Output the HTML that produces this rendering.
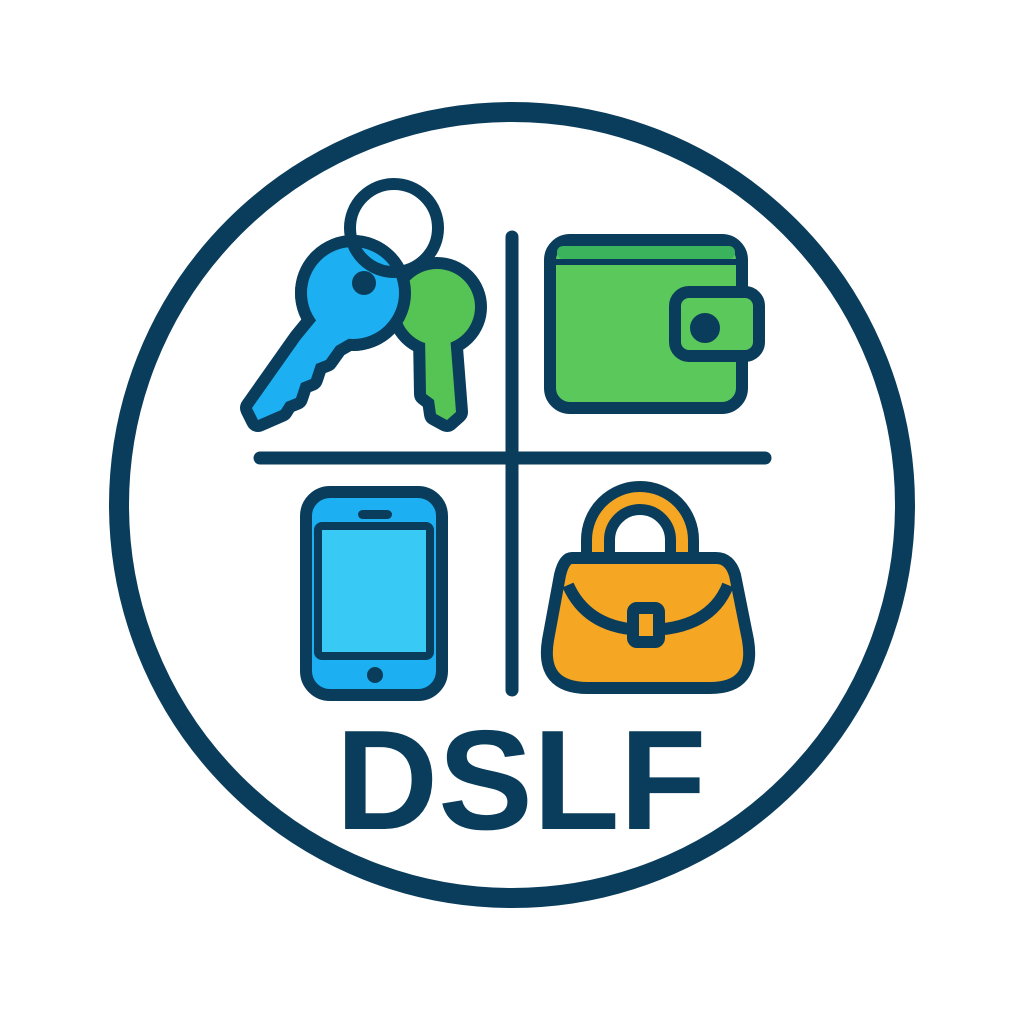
<!DOCTYPE html>
<html><head><style>html,body{margin:0;padding:0;background:#fff}svg{display:block}</style></head>
<body>
<svg width="1024" height="1024" viewBox="0 0 1024 1024" xmlns="http://www.w3.org/2000/svg">
<rect width="1024" height="1024" fill="#fff"/>
<circle cx="512" cy="505" r="393" fill="none" stroke="#0a3d5c" stroke-width="20"/>
<g stroke="#0a3d5c" stroke-width="13" stroke-linecap="round">
<line x1="512" y1="237" x2="512" y2="690"/>
<line x1="260" y1="458" x2="765" y2="458"/>
</g>
<!-- keys: outlines -->
<g fill="#0a3d5c" stroke="#0a3d5c" stroke-width="24" stroke-linejoin="round">
<circle cx="437" cy="307" r="38"/>
<polygon points="425,335 450,335 456,412 447,420 436,414 434,400 426,394"/>
<circle cx="353" cy="293" r="46"/>
<polygon points="318,318 350,338 336,346 326,360 316,364 311,379 301,383 296,398 286,402 281,410 258,420 252,408 300,340"/>
</g>
<g fill="#55c454">
<circle cx="437" cy="307" r="38"/>
<polygon points="425,335 450,335 456,412 447,420 436,414 434,400 426,394"/>
</g>
<g stroke="#0a3d5c" stroke-width="12" fill="none"><circle cx="353" cy="293" r="52"/></g>
<g fill="#1cb0f2">
<circle cx="353" cy="293" r="46"/>
<polygon points="318,318 350,338 336,346 326,360 316,364 311,379 301,383 296,398 286,402 281,410 258,420 252,408 300,340"/>
</g>
<circle cx="364" cy="283" r="12" fill="#0a3d5c"/>
<circle cx="394" cy="228" r="44" fill="none" stroke="#0a3d5c" stroke-width="12"/>
<!-- wallet -->
<g stroke="#0a3d5c" stroke-width="12" stroke-linejoin="round">
<rect x="550" y="240" width="192" height="168" rx="20" fill="#5ac85a"/>
<path d="M556,262 L736,262" stroke="#0a3d5c" stroke-width="6"/>
<rect x="675" y="292" width="84" height="64" rx="14" fill="#5ac85a"/>
<circle cx="705" cy="328" r="9" fill="#0a3d5c"/>
</g>
<rect x="557" y="246" width="178" height="13" rx="6" fill="#3bb35c"/>
<!-- phone -->
<g stroke="#0a3d5c" stroke-width="12">
<rect x="306" y="492" width="136" height="203" rx="24" fill="#1cb0f2"/>
<rect x="318" y="526" width="112" height="130" rx="4" fill="#38c9f5" stroke-width="8"/>
</g>
<rect x="358" y="510" width="34" height="9" rx="4.5" fill="#0a3d5c"/>
<circle cx="375" cy="675" r="8" fill="#0a3d5c"/>
<!-- bag -->
<g stroke="#0a3d5c" stroke-width="12" stroke-linejoin="round">
<path d="M598,560 L598,540 a42,42 0 0 1 84,0 L682,560" fill="none" stroke-width="34"/>
<path d="M598,560 L598,540 a42,42 0 0 1 84,0 L682,560" fill="none" stroke="#f5a623" stroke-width="12"/>
<path d="M572,558 L716,558 Q730,558 735,575 L748,640 Q756,688 710,688 L588,688 Q540,688 548,640 L560,575 Q564,558 572,558 z" fill="#f5a623"/>
<path d="M568,585 Q588,630 646,630 Q710,630 728,585" fill="none"/>
<rect x="633" y="608" width="26" height="34" rx="4" fill="#f5a623"/>
</g>
<text x="521" y="829" text-anchor="middle" font-family="Liberation Sans, sans-serif" font-weight="bold" font-size="142" fill="#0a3d5c">DSLF</text>
</svg>
</body></html>
